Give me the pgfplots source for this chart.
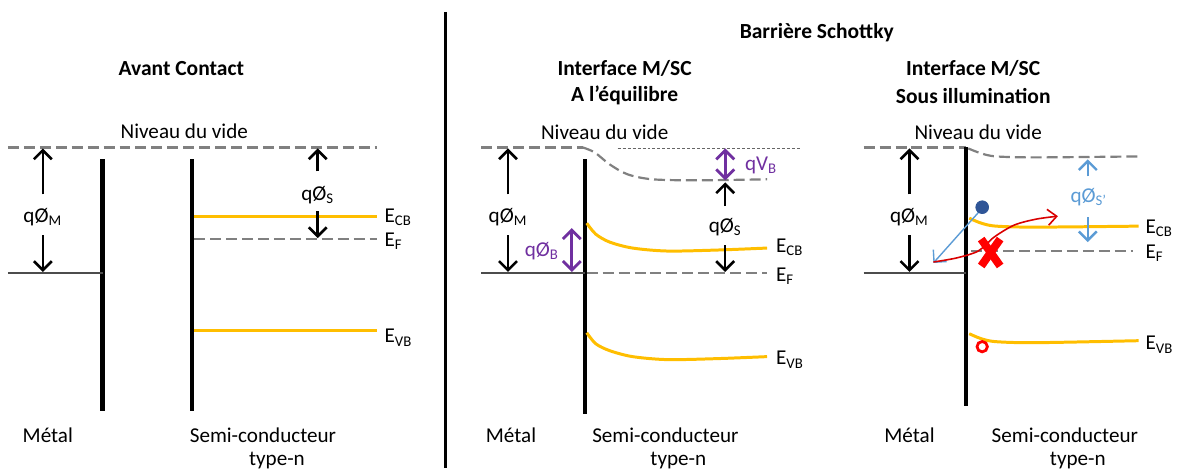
\documentclass[border=0pt]{standalone}
\usepackage{pgfplots}
\pgfplotsset{compat=1.18}
\usepackage{fontspec}
\setmainfont{Carlito}
\usetikzlibrary{arrows.meta}

\definecolor{vide}{RGB}{128,128,128}
\definecolor{bande}{RGB}{255,190,0}
\definecolor{violet}{RGB}{112,48,160}
\definecolor{bleu}{RGB}{91,155,213}
\definecolor{bleufonce}{RGB}{47,85,151}

\tikzset{
  barre/.style={black, line width=2.2pt},
  niveau/.style={vide, line width=1.1pt, dash pattern=on 5.5pt off 2.5pt},
  fermi/.style={black!70, line width=1.1pt},
  bandeE/.style={bande, line width=1.5pt},
  fleche/.style={black, line width=1.3pt, -{Straight Barb[length=4.5pt,width=9pt]}},
  dfleche/.style={violet, line width=1.4pt, {Straight Barb[length=4.5pt,width=9pt]}-{Straight Barb[length=4.5pt,width=9pt]}},
  bfleche/.style={bleu, line width=1.2pt, -{Straight Barb[length=4.5pt,width=9pt]}},
  lab/.style={font=\fontsize{10.6}{12}\selectfont},
  titre/.style={font=\fontsize{10.8}{12}\selectfont\bfseries},
}

\begin{document}
\begin{tikzpicture}
\begin{axis}[
  width=590pt, height=235pt, scale only axis,
  xmin=0, xmax=1180, ymin=0, ymax=470, y dir=reverse,
  hide axis, clip=false,
]
% cadre invisible
\addplot[draw=none] coordinates {(0,0) (1180,470)};

% separateur
\addplot[black, line width=1.6pt] coordinates {(447,12) (447,470)};

% ---------- Avant contact ----------
\addplot[niveau] coordinates {(8,148) (378,148)};
\addplot[barre] coordinates {(103,160) (103,413)};
\addplot[barre] coordinates {(193,160) (193,413)};
\addplot[fermi] coordinates {(8,274) (103,274)};
\addplot[bandeE] coordinates {(195,217) (378,217)};
\addplot[niveau] coordinates {(195,240) (378,240)};
\addplot[bandeE] coordinates {(195,332) (378,332)};
\addplot[fleche] coordinates {(43,195) (43,149)};
\addplot[fleche] coordinates {(43,236) (43,273)};
\addplot[fleche] coordinates {(319,172) (319,149)};
\addplot[fleche] coordinates {(319,212) (319,239)};

% ---------- Equilibre ----------
\addplot[niveau] coordinates {(483,148) (585,148)};
\addplot[niveau, smooth] coordinates {(585,148) (597,153) (612,165) (630,175) (655,180) (700,181) (770,180)};
\addplot[black!60, line width=0.6pt, dash pattern=on 1.5pt off 1pt] coordinates {(620,149) (805,149)};
\addplot[barre] coordinates {(587,160) (587,416)};
\addplot[fermi] coordinates {(483,274) (587,274)};
\addplot[niveau] coordinates {(589,274) (770,274)};
\addplot[bandeE, smooth] coordinates {(589,224) (598,235) (612,243) (635,249) (670,252) (720,251) (770,249)};
\addplot[bandeE, smooth] coordinates {(589,334) (598,345) (612,352) (635,358) (670,361) (720,360) (770,358)};
\addplot[fleche] coordinates {(510,195) (510,149)};
\addplot[fleche] coordinates {(510,236) (510,273)};
\addplot[dfleche] coordinates {(574,229) (574,273)};
\addplot[dfleche] coordinates {(728,149) (728,181)};
\addplot[fleche] coordinates {(728,207) (728,183)};
\addplot[fleche] coordinates {(728,246) (728,273)};

% ---------- Illumination ----------
\addplot[niveau] coordinates {(867,148) (970,148)};
\addplot[niveau, smooth] coordinates {(972,149) (985,154) (1000,157) (1040,158) (1143,157)};
\addplot[barre] coordinates {(970,148) (970,408)};
\addplot[fermi] coordinates {(867,274) (970,274)};
\addplot[bandeE, smooth] coordinates {(973,219) (985,224) (1000,227) (1040,228) (1143,227)};
\addplot[niveau] coordinates {(975,252) (1137,252)};
\addplot[bandeE, smooth] coordinates {(973,335) (985,340) (1000,343) (1040,344) (1143,342)};
\addplot[fleche] coordinates {(913,195) (913,149)};
\addplot[fleche] coordinates {(913,236) (913,273)};
\addplot[bfleche] coordinates {(1092,177) (1092,160)};
\addplot[bfleche] coordinates {(1092,218) (1092,243)};
% electron et trou
\addplot[bfleche, line width=0.7pt] coordinates {(986,209) (937,264)};
\addplot[only marks, mark=*, mark size=3.2pt, bleufonce] coordinates {(986,208)};
\addplot[only marks, mark=o, mark size=2.6pt, red, line width=1.4pt] coordinates {(986,348)};
\addplot[red!85!black, line width=0.8pt, smooth, -{Straight Barb[length=4.5pt,width=8pt]}]
  coordinates {(937,263) (960,259) (982,252) (998,238) (1018,226) (1040,220) (1062,217)};
% croix rouge
\addplot[red, line width=4pt] coordinates {(985,240) (1004,267)};
\addplot[red, line width=4pt] coordinates {(1004,240) (985,267)};

% ---------- Textes ----------
\node[titre] at (axis cs:182,69) {Avant Contact};
\node[titre] at (axis cs:820,33) {Barrière Schottky};
\node[titre] at (axis cs:627,69) {Interface M/SC};
\node[titre] at (axis cs:627,96) {A l’équilibre};
\node[titre] at (axis cs:977,69) {Interface M/SC};
\node[titre] at (axis cs:977,96) {Sous illumination};

\node[lab] at (axis cs:185,132) {Niveau du vide};
\node[lab] at (axis cs:607,133) {Niveau du vide};
\node[lab] at (axis cs:982,133) {Niveau du vide};

\node[lab] at (axis cs:43,218) {qØ\textsubscript{M}};
\node[lab] at (axis cs:319,196) {qØ\textsubscript{S}};
\node[lab] at (axis cs:510,218) {qØ\textsubscript{M}};
\node[lab, violet] at (axis cs:544,252) {qØ\textsubscript{B}};
\node[lab, violet] at (axis cs:764,166) {qV\textsubscript{B}};
\node[lab] at (axis cs:728,228) {qØ\textsubscript{S}};
\node[lab] at (axis cs:913,218) {qØ\textsubscript{M}};
\node[lab, bleu] at (axis cs:1093,198) {qØ\textsubscript{S’}};

\node[lab, anchor=west] at (axis cs:379,218) {E\textsubscript{CB}};
\node[lab, anchor=west] at (axis cs:379,242) {E\textsubscript{F}};
\node[lab, anchor=west] at (axis cs:379,339) {E\textsubscript{VB}};
\node[lab, anchor=west] at (axis cs:772,248) {E\textsubscript{CB}};
\node[lab, anchor=west] at (axis cs:772,277) {E\textsubscript{F}};
\node[lab, anchor=west] at (axis cs:772,361) {E\textsubscript{VB}};
\node[lab, anchor=west] at (axis cs:1143,229) {E\textsubscript{CB}};
\node[lab, anchor=west] at (axis cs:1143,254) {E\textsubscript{F}};
\node[lab, anchor=west] at (axis cs:1143,346) {E\textsubscript{VB}};

\node[lab] at (axis cs:48,437) {Métal};
\node[lab] at (axis cs:264,437) {Semi-conducteur};
\node[lab] at (axis cs:278,462) {type-n};
\node[lab] at (axis cs:513,437) {Métal};
\node[lab] at (axis cs:668,437) {Semi-conducteur};
\node[lab] at (axis cs:681,462) {type-n};
\node[lab] at (axis cs:913,437) {Métal};
\node[lab] at (axis cs:1069,437) {Semi-conducteur};
\node[lab] at (axis cs:1082,462) {type-n};
\end{axis}
\end{tikzpicture}
\end{document}
